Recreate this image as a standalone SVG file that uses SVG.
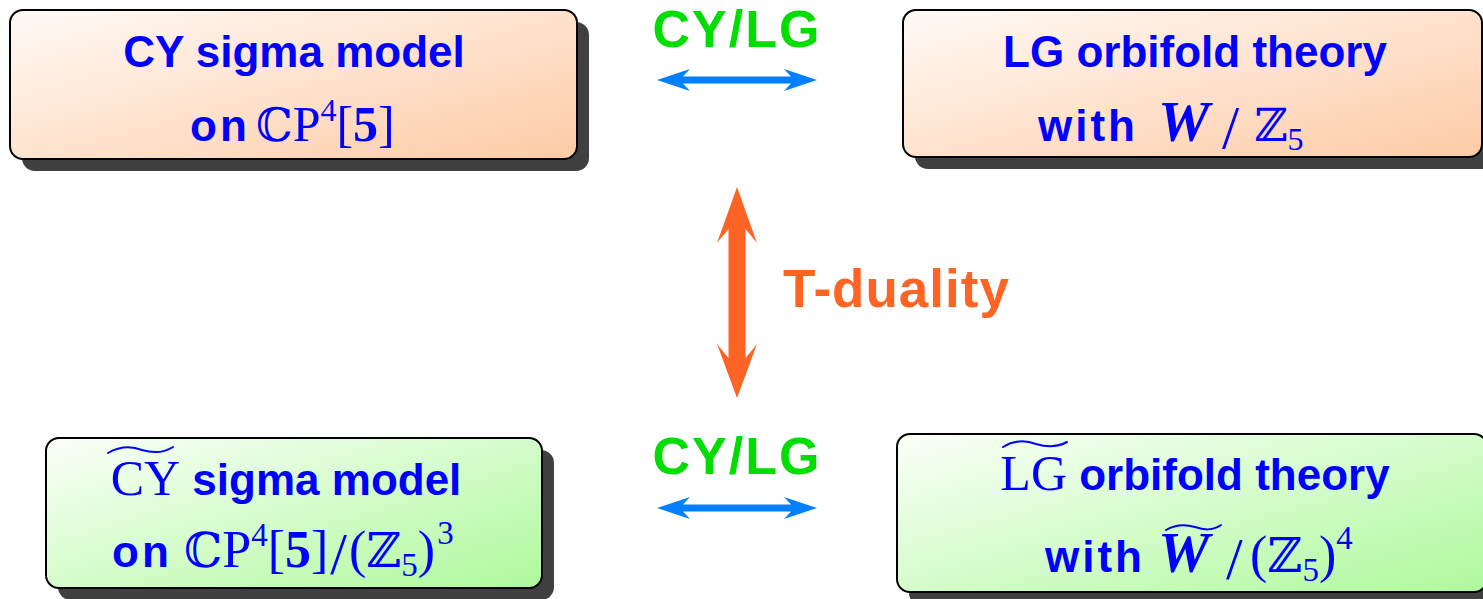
<svg xmlns="http://www.w3.org/2000/svg" width="1483" height="599" viewBox="0 0 1483 599">
  <defs>
    <linearGradient id="peach" x1="0" y1="0" x2="1" y2="1">
      <stop offset="0" stop-color="#fffaf6"/>
      <stop offset="1" stop-color="#fdcba6"/>
    </linearGradient>
    <linearGradient id="mint" x1="0" y1="0" x2="1" y2="1">
      <stop offset="0" stop-color="#fbfff9"/>
      <stop offset="1" stop-color="#aef99c"/>
    </linearGradient>
    <style>
      .shadow { fill: #404040; }
      .box { stroke: #000; stroke-width: 2; }
      .warm { fill: url(#peach); }
      .cool { fill: url(#mint); }
      .sf { font-family: "Liberation Sans", "DejaVu Sans", sans-serif; font-weight: bold; fill: #0000ff; }
      .rm { font-family: "Liberation Serif", "DejaVu Serif", serif; font-weight: normal; }
      .bb { font-family: "DejaVu Serif", "Liberation Serif", serif; font-weight: normal; }
      .it { font-family: "Liberation Serif", "DejaVu Serif", serif; font-style: italic; font-weight: bold; }
      .sl { font-family: "Liberation Serif", "DejaVu Serif", serif; font-weight: normal; }
      .wide { letter-spacing: 3px; }
      .accent { fill: none; stroke: #0000ff; stroke-width: 2; stroke-linecap: round; }
      .tag { font-family: "Liberation Sans", "DejaVu Sans", sans-serif; font-weight: bold; }
      .green { fill: #00dd00; }
      .orange { fill: #ff6424; }
      .blue { fill: #0080ff; }
    </style>
  </defs>

  <!-- top left: CY sigma model -->
  <g id="cy-sigma">
    <rect class="shadow" x="22" y="22" width="567" height="149" rx="13"/>
    <rect class="box warm" x="10" y="10" width="567" height="149" rx="13"/>
    <text class="sf" x="294" y="67" font-size="44" text-anchor="middle">CY sigma model</text>
    <text class="sf" x="190" y="141" font-size="44"><tspan class="wide">on</tspan> <tspan class="bb" x="256" font-size="46">ℂ</tspan><tspan class="rm" font-size="50" font-weight="bold">P</tspan><tspan class="rm" font-size="32" dy="-20">4</tspan><tspan class="rm" font-size="50" dy="20">[<tspan font-weight="bold">5</tspan>]</tspan></text>
  </g>

  <!-- top right: LG orbifold theory -->
  <g id="lg-orbifold">
    <rect class="shadow" x="915" y="22" width="580" height="147" rx="13"/>
    <rect class="box warm" x="903" y="10" width="579" height="147" rx="13"/>
    <text class="sf" x="1195" y="67" font-size="44" text-anchor="middle">LG orbifold theory</text>
    <text class="sf" x="1038" y="141" font-size="44"><tspan class="wide">with</tspan><tspan class="it" x="1158" font-size="58">W</tspan><tspan class="sl" x="1222" font-size="62" dy="7">/</tspan><tspan class="bb" x="1254" font-size="46" dy="-7">ℤ</tspan><tspan class="rm" font-size="32" dy="9">5</tspan></text>
  </g>

  <!-- bottom left: mirror CY sigma model -->
  <g id="cy-mirror-sigma">
    <rect class="shadow" x="58" y="450" width="496" height="150" rx="13"/>
    <rect class="box cool" x="46" y="438" width="496" height="150" rx="13"/>
    <text class="sf" x="286" y="495" font-size="44" text-anchor="middle"><tspan class="rm" font-size="50">CY</tspan> sigma model</text>
    <path class="accent" d="M108,453 C122,445 134,447 142,450 C152,453 162,454 173,447"/>
    <text class="sf" x="112" y="567" font-size="44"><tspan class="wide">on</tspan> <tspan class="bb" x="184" font-size="48">ℂ</tspan><tspan class="rm" font-size="52" font-weight="bold">P</tspan><tspan class="rm" font-size="33" dy="-21">4</tspan><tspan class="rm" font-size="52" dy="21">[<tspan font-weight="bold">5</tspan>]</tspan><tspan class="sl" font-size="60" dx="2" dy="7">/</tspan><tspan class="rm" font-size="52" dx="2" dy="-7">(</tspan><tspan class="bb" font-size="48">ℤ</tspan><tspan class="rm" font-size="33" dy="9">5</tspan><tspan class="rm" font-size="52" dy="-9">)</tspan><tspan class="rm" font-size="33" dy="-23" dx="2">3</tspan></text>
  </g>

  <!-- bottom right: mirror LG orbifold theory -->
  <g id="lg-mirror-orbifold">
    <rect class="shadow" x="909" y="446" width="590" height="160" rx="13"/>
    <rect class="box cool" x="897" y="434" width="590" height="158" rx="13"/>
    <text class="sf" x="1195" y="490" font-size="44" text-anchor="middle"><tspan class="rm" font-size="50">LG</tspan> orbifold theory</text>
    <path class="accent" d="M1003,447 C1016,439 1028,441 1036,444 C1046,447 1056,448 1067,442"/>
    <text class="sf" x="1045" y="572" font-size="44"><tspan class="wide">with</tspan><tspan class="it" x="1158" font-size="58">W</tspan><tspan class="sl" x="1226" font-size="60" dy="7">/</tspan><tspan class="rm" x="1250" font-size="52" dy="-7">(</tspan><tspan class="bb" font-size="48">ℤ</tspan><tspan class="rm" font-size="33" dy="9">5</tspan><tspan class="rm" font-size="52" dy="-9">)</tspan><tspan class="rm" font-size="33" dy="-23">4</tspan></text>
    <path class="accent" d="M1166,530 C1178,523 1188,525 1195,527 C1204,530 1212,531 1221,525"/>
  </g>

  <!-- connectors -->
  <g id="connectors">
    <polygon class="blue" points="657,80 690,69 683,76.5 791,76.5 784,69 817,80 784,91 791,83.5 683,83.5 690,91"/>
    <polygon class="blue" points="657,508 690,497 683,504.5 791,504.5 784,497 817,508 784,519 791,511.5 683,511.5 690,519"/>
    <polygon class="orange" points="737,187 757,243 745.5,229 745.5,358 757,344 737,398 717,344 728.5,358 728.5,229 717,243"/>
    <text class="tag green" x="737" y="47" font-size="52" text-anchor="middle" letter-spacing="2">CY/LG</text>
    <text class="tag green" x="737" y="474" font-size="52" text-anchor="middle" letter-spacing="2">CY/LG</text>
    <text class="tag orange" x="783" y="307" font-size="53" letter-spacing="1">T-duality</text>
  </g>
</svg>
